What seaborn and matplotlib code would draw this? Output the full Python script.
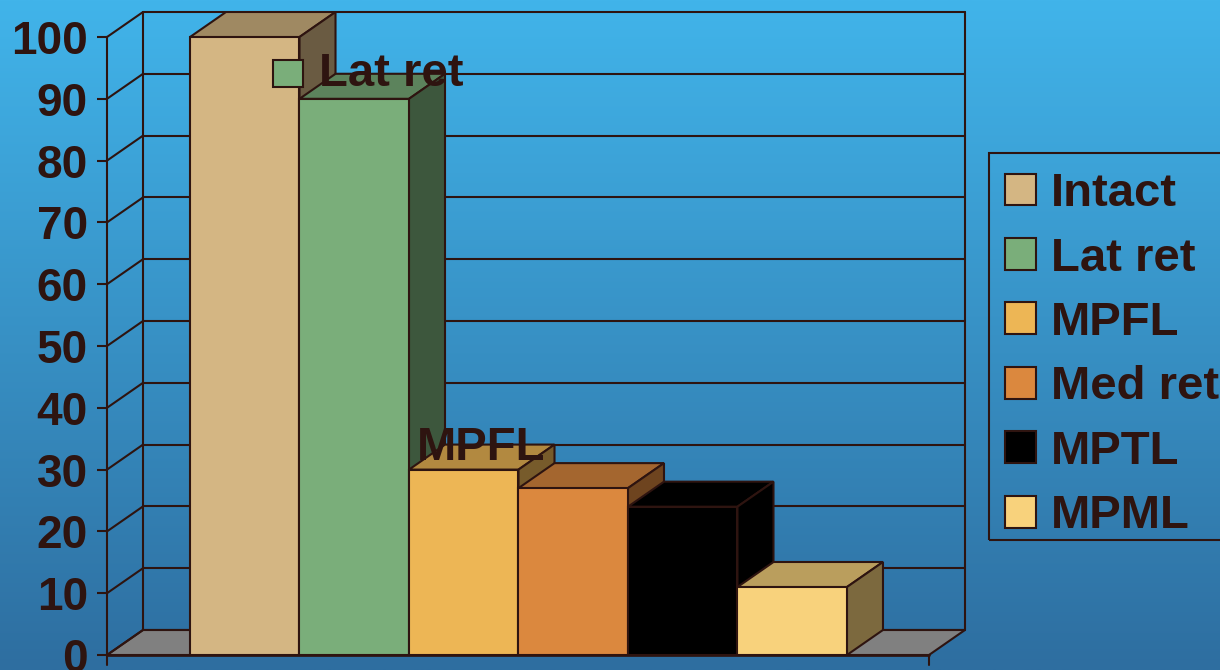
import numpy as np
import pandas as pd
import matplotlib
matplotlib.use("Agg")
import matplotlib.pyplot as plt
from matplotlib.patches import Polygon, Patch, Rectangle
from matplotlib.colors import to_rgb
import seaborn as sns

# ---- data ----
categories = ["Intact", "Lat ret", "MPFL", "Med ret", "MPTL", "MPML"]
values = [100, 90, 30, 27, 24, 11]
colors = ["#D4B683", "#7AAE7A", "#EDB655", "#DB883E", "#000000", "#F8D27C"]
yticks = list(range(0, 101, 10))

# ---- style ----
sns.set_theme(style="white")
plt.rcParams["font.family"] = ["Liberation Sans", "DejaVu Sans"]
plt.rcParams["font.weight"] = "bold"
INK = "#2E1410"
LW = 1.5
FS = 34

W, H = 1220, 670
fig = plt.figure(figsize=(W / 100, H / 100), dpi=100)

# gradient background
bg = fig.add_axes([0, 0, 1, 1], zorder=-10)
top_c = np.array(to_rgb("#41B4EA"))
bot_c = np.array(to_rgb("#2E6EA0"))
t = np.linspace(0, 1, 256)[:, None, None]
grad = top_c * (1 - t) + bot_c * t
bg.imshow(np.repeat(grad, 2, axis=1), aspect="auto", extent=[0, 1, 0, 1])
bg.set_axis_off()

# main axes (front plane + depth)
left_px, right_px, top_px, bot_px = 107, 965, 12, 655
ax = fig.add_axes([left_px / W, (H - bot_px) / H, (right_px - left_px) / W, (bot_px - top_px) / H])
ax.set_facecolor("none")

xL = -1.258      # front left of plot
xFR = 6.249      # front right
dx, dy = 0.329, 4.05
ymax = 104.05
ax.set_xlim(xL, xFR + dx)
ax.set_ylim(0, ymax)

df = pd.DataFrame({"cat": categories, "val": values})
sns.barplot(data=df, x="cat", y="val", hue="cat", palette=colors, width=1.0,
            order=categories, hue_order=categories, legend=False,
            edgecolor=INK, linewidth=LW, saturation=1, ax=ax, zorder=3)

ax.set_xlim(xL, xFR + dx)
ax.set_ylim(0, ymax)

def shade(c, f):
    r, g, b = to_rgb(c)
    return (r * f, g * f, b * f)

bars = sorted(ax.patches, key=lambda p: p.get_x())
for i, (p, c) in enumerate(zip(bars, colors)):
    x0 = p.get_x(); w = p.get_width(); h = p.get_height()
    x1 = x0 + w
    z = 3 + i * 0.1
    top = Polygon([(x0, h), (x1, h), (x1 + dx, h + dy), (x0 + dx, h + dy)], closed=True,
                  facecolor=shade(c, 0.75), edgecolor=INK, lw=LW, zorder=z, joinstyle="miter")
    side = Polygon([(x1, 0), (x1 + dx, dy), (x1 + dx, h + dy), (x1, h)], closed=True,
                   facecolor=shade(c, 0.5), edgecolor=INK, lw=LW, zorder=z, joinstyle="miter")
    ax.add_patch(top); ax.add_patch(side)
    p.set_zorder(z + 0.05)
    p.set_facecolor(c)

# floor
floor = Polygon([(xL, 0), (xFR, 0), (xFR + dx, dy), (xL + dx, dy)], closed=True,
                facecolor="#808080", edgecolor=INK, lw=LW, zorder=1, clip_on=False)
ax.add_patch(floor)

# back wall and side wall grid
for v in yticks:
    ax.plot([xL + dx, xFR + dx], [v + dy, v + dy], color=INK, lw=LW, zorder=1.5, clip_on=False)
    ax.plot([xL, xL + dx], [v, v + dy], color=INK, lw=LW, zorder=1.5, clip_on=False)
ax.plot([xL + dx, xL + dx], [dy, 100 + dy], color=INK, lw=LW, zorder=1.5, clip_on=False)
ax.plot([xFR + dx, xFR + dx], [dy, 100 + dy], color=INK, lw=LW, zorder=1.5, clip_on=False)
ax.plot([xL, xFR], [0, 0], color=INK, lw=LW * 1.3, zorder=6, clip_on=False)
for xx in (xL, xFR):
    ax.plot([xx, xx], [0, -1.65], color=INK, lw=LW, zorder=6, clip_on=False)

# axes decoration
for s in ["top", "right", "bottom"]:
    ax.spines[s].set_visible(False)
ax.spines["left"].set_color(INK)
ax.spines["left"].set_linewidth(LW)
ax.spines["left"].set_bounds(0, 100)
ax.set_yticks(yticks)
ax.set_yticklabels([str(v) for v in yticks])
ax.tick_params(axis="y", direction="out", length=7.2, width=LW, color=INK,
               pad=6.5, labelsize=33, labelcolor=INK, left=True)
ax.set_xticks([])
ax.set_xlabel(""); ax.set_ylabel("")
for lab in ax.get_yticklabels():
    lab.set_fontweight("bold")

# legend (frame drawn separately)
fig.add_artist(Rectangle((989 / W, 1 - 540 / H), 260 / W, 387 / H, transform=fig.transFigure,
                         facecolor="none", edgecolor=INK, lw=LW, zorder=9))
handles = [Patch(facecolor=c, edgecolor=INK, lw=LW) for c in colors]
fig.legend(handles, categories, loc="upper left", bbox_to_anchor=(989 / W, 1 - 156 / H),
           bbox_transform=fig.transFigure, borderaxespad=0, frameon=False,
           prop={"size": FS, "weight": "bold"},
           labelcolor=INK, handlelength=0.66, handleheight=0.66, handletextpad=0.32,
           labelspacing=0.433, borderpad=0.34)

# leftover data labels
fig.add_artist(Rectangle((273 / W, 1 - 87 / H), 30 / W, 27 / H, transform=fig.transFigure,
                         facecolor=colors[1], edgecolor=INK, lw=LW, zorder=20))
fig.text(319 / W, 1 - 86 / H, "Lat ret", fontsize=FS, fontweight="bold", color=INK,
         va="baseline", ha="left", zorder=20)
fig.text(417 / W, 1 - 460 / H, "MPFL", fontsize=FS, fontweight="bold", color=INK,
         va="baseline", ha="left", zorder=20)

fig.savefig("out.png", dpi=100)
